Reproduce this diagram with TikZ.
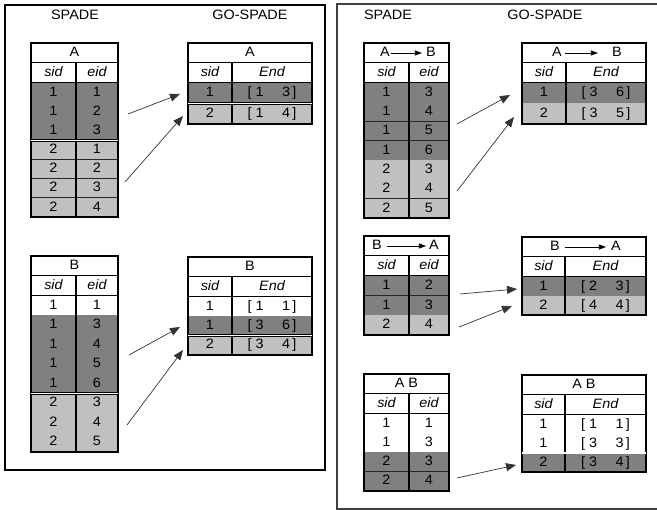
\documentclass[tikz,border=0pt]{standalone}
\usepackage{fontspec}
\setmainfont{Liberation Sans}[FakeStretch=1.06]
\usetikzlibrary{arrows.meta}
\definecolor{dk}{RGB}{128,128,128}
\definecolor{lt}{RGB}{192,192,192}
\definecolor{wh}{RGB}{255,255,255}
\newcommand{\intv}[2]{[\hspace{4pt}#1\hspace{18.5pt}#2\hspace{2pt}]}
\tikzset{
  cell/.style={inner sep=0pt, text height=0.72em, text depth=0pt, font=\fontsize{13.6}{15}\selectfont},
  icell/.style={cell, font=\fontsize{13.6}{15}\selectfont\itshape},
  rowline/.style={draw=black!85, line width=0.8pt},
  hdrline/.style={draw=black, line width=1pt},
  divline/.style={draw=black, line width=1.5pt},
  outline/.style={draw=black, line width=1.6pt},
  dbl/.style={draw=black, line width=0.7pt, double=white, double distance=1.1pt},
  frame/.style={draw=black, line width=1.2pt},
  flow/.style={draw=black!80, line width=0.7pt, -{Triangle[length=10pt,width=8pt]}},
  hdrarr/.style={draw=black, line width=0.6pt, -{Triangle[length=7pt,width=5pt]}},
  title/.style={cell}
}
\newcommand{\drawtable}[9]{%
  \fill[white] (#2,#5) rectangle (#4,#5+40);
  \foreach [count=\i] \ca/\va/\vb in {#9} {
    \pgfmathsetmacro\ya{#5+40+(\i-1)*#6}
    \pgfmathsetmacro\yb{\ya+#6}
    \fill[\ca] (#2,\ya) rectangle (#4,\yb);
    \draw[rowline] (#2,\yb) -- (#4,\yb);
    \node[cell] (#1-l\i) at ({(#2+#3)/2},{(\ya+\yb)/2}) {\va};
    \node[cell] (#1-r\i) at ({(#3+#4)/2},{(\ya+\yb)/2}) {\vb};
  }
  \node[icell] (#1-sid) at ({(#2+#3)/2},#5+30) {sid};
  \node[icell] (#1-col) at ({(#3+#4)/2},#5+30) {#8};
  \draw[hdrline] (#2,#5+20) -- (#4,#5+20);
  \draw[hdrline] (#2,#5+40) -- (#4,#5+40);
  \pgfmathsetmacro\ybot{#5+40+#7*#6}
  \draw[divline] (#3,#5+20) -- (#3,\ybot);
  \draw[outline] (#2,#5) rectangle (#4,\ybot);
}
\begin{document}
\begin{tikzpicture}[x=1pt,y=-1pt]
\useasboundingbox (0,0) rectangle (657,510);
\fill[white] (0,0) rectangle (657,510);
% frames
\draw[frame] (5,5) rectangle (325,470);
\draw[frame, draw=black!75] (662,4) -- (337,4) -- (337,509) -- (662,509);
% column titles
\node[title] (s1) at (75,16) {SPADE};
\node[title] (g1) at (250,16) {GO-SPADE};
\node[title] (s2) at (388,16) {SPADE};
\node[title] (g2) at (545,16) {GO-SPADE};

% ---------- left panel ----------
\drawtable{t1}{31}{76}{118}{43}{19.15}{7}{eid}{dk/1/1, dk/1/2, dk/1/3, lt/2/1, lt/2/2, lt/2/3, lt/2/4}
\draw[dbl] (31,140.45) -- (118,140.45);
\node[title] (t1h) at (74.5,53) {A};

\drawtable{t2}{188}{232}{312}{43}{20.5}{2}{End}{dk/1/\intv{1}{3}, lt/2/\intv{1}{4}}
\draw[dbl] (188,103.5) -- (312,103.5);
\node[title] (t2h) at (250,53) {A};

\drawtable{t3}{31}{76}{118}{256}{19.5}{8}{eid}{wh/1/1, dk/1/3, dk/1/4, dk/1/5, dk/1/6, lt/2/3, lt/2/4, lt/2/5}
\draw[dbl] (31,393.5) -- (118,393.5);
\node[title] (t3h) at (74.5,266) {B};

\drawtable{t4}{188}{232}{312}{257}{19.3}{3}{End}{wh/1/\intv{1}{1}, dk/1/\intv{3}{6}, lt/2/\intv{3}{4}}
\draw[dbl] (188,335.6) -- (312,335.6);
\node[title] (t4h) at (250,267) {B};

\coordinate (a1s) at (128,114); \coordinate (a1e) at (180,94);
\coordinate (a2s) at (125,182); \coordinate (a2e) at (183,116);
\coordinate (a3s) at (129,355); \coordinate (a3e) at (180,327);
\coordinate (a4s) at (127,425); \coordinate (a4e) at (183,350);
\draw[flow] (a1s) -- (a1e);
\draw[flow] (a2s) -- (a2e);
\draw[flow] (a3s) -- (a3e);
\draw[flow] (a4s) -- (a4e);

% ---------- right panel ----------
\drawtable{t5}{364}{409}{449}{43}{19.3}{7}{eid}{dk/1/3, dk/1/4, dk/1/5, dk/1/6, lt/2/3, lt/2/4, lt/2/5}
\node[title] (t5a) at (385,53) {A};
\node[title] (t5b) at (431,53) {B};
\draw[hdrarr, shorten <=1pt, shorten >=4pt] (t5a.east) -- (t5b.west);

\drawtable{t6}{522}{566}{646}{43}{20.5}{2}{End}{dk/1/\intv{3}{6}, lt/2/\intv{3}{5}}
\node[title] (t6a) at (557,53) {A};
\node[title] (t6b) at (617,53) {B};
\draw[hdrarr, shorten <=3pt, shorten >=14pt] (t6a.east) -- (t6b.west);

\drawtable{t7}{364}{409}{449}{236}{19.7}{3}{eid}{dk/1/2, dk/1/3, lt/2/4}
\node[title] (t7b) at (377,246) {B};
\node[title] (t7a) at (434,246) {A};
\draw[hdrarr, shorten <=5pt, shorten >=3pt] (t7b.east) -- (t7a.west);

\drawtable{t8}{522}{565}{646}{237}{19}{2}{End}{dk/1/\intv{2}{3}, lt/2/\intv{4}{4}}
\node[title] (t8b) at (555,247) {B};
\node[title] (t8a) at (616,247) {A};
\draw[hdrarr, shorten <=5pt, shorten >=5pt] (t8b.east) -- (t8a.west);

\drawtable{t9}{364}{409}{449}{374}{19.25}{4}{eid}{wh/1/1, wh/1/3, dk/2/3, dk/2/4}
\node[title] (t9h) at (406.5,384) {A B};

\drawtable{t10}{522}{565}{646}{375}{19}{3}{End}{wh/1/\intv{1}{1}, wh/1/\intv{3}{3}, dk/2/\intv{3}{4}}
\draw[dbl] (522,453) -- (646,453);
\node[title] (t10h) at (584,385) {A B};

\coordinate (a5s) at (457,124); \coordinate (a5e) at (510,95);
\coordinate (a6s) at (457,191); \coordinate (a6e) at (514,117);
\coordinate (a7s) at (460,294); \coordinate (a7e) at (517,289);
\coordinate (a8s) at (459,327); \coordinate (a8e) at (512,306);
\coordinate (a9s) at (457,478); \coordinate (a9e) at (516,465);
\draw[flow] (a5s) -- (a5e);
\draw[flow] (a6s) -- (a6e);
\draw[flow] (a7s) -- (a7e);
\draw[flow] (a8s) -- (a8e);
\draw[flow] (a9s) -- (a9e);
\end{tikzpicture}
\end{document}
